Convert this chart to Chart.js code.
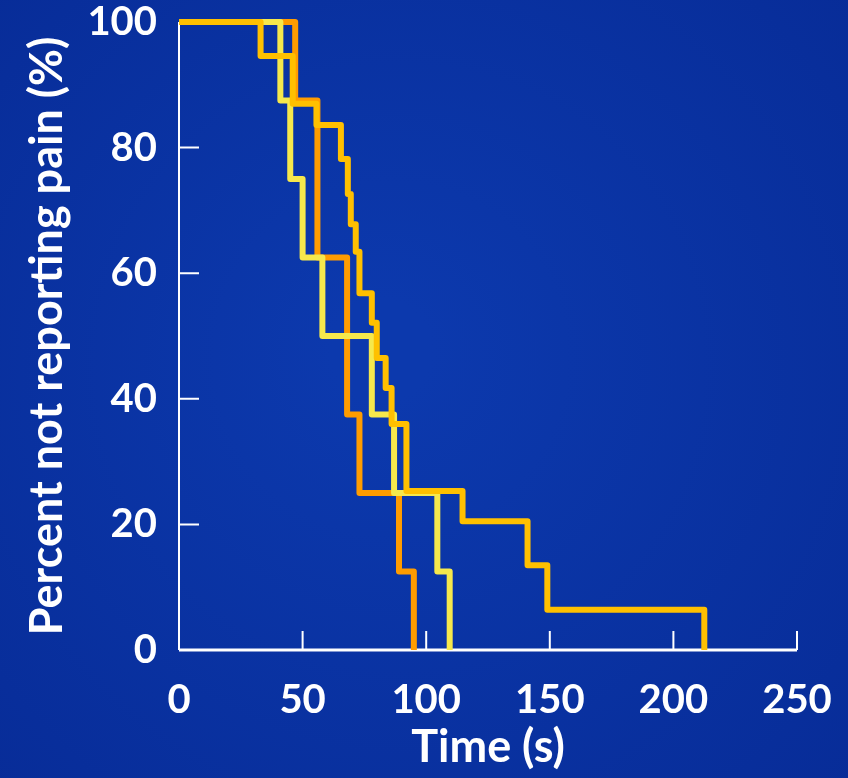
<!DOCTYPE html>
<html>
<head>
<meta charset="utf-8">
<script src="https://cdn.jsdelivr.net/npm/chart.js@4/dist/chart.umd.min.js"></script>
<style>
  html, body { margin: 0; padding: 0; background: #0a2f9e; }
  #wrap { width: 848px; height: 778px; }
</style>
</head>
<body>
<div id="wrap"><canvas id="km"></canvas></div>
<script>
// survival curves: time (s) and percent still without pain
const goldTimes = [0, 33, 46, 55.6, 65.5, 68.3, 69.5, 71.5, 73, 78, 80, 83.6, 86, 92, 114.7, 141, 149, 212.5];
const goldPct = [100, 94.6, 87, 83.6, 78.2, 72.6, 67.8, 63.4, 56.8, 52.1, 46.5, 41.7, 36, 25.3, 20.5, 13.5, 6.4, 0];

const yellowTimes = [0, 41, 45, 50, 58, 78, 87, 104.5, 109.5];
const yellowPct = [100, 87.5, 75, 62.5, 50, 37.5, 25, 12.5, 0];

const orangeTimes = [0, 47, 56, 68, 73, 89, 95];
const orangePct = [100, 87.5, 62.5, 37.5, 25, 12.5, 0];

const xTicks = [0, 50, 100, 150, 200, 250];
const yTicks = [0, 20, 40, 60, 80, 100];

const pts = (ts, vs) => ts.map((t, i) => ({ x: t, y: vs[i] }));

// blue slide background
const bgPlugin = {
  id: 'bg',
  beforeDraw(chart) {
    const { ctx, width, height } = chart;
    const g = ctx.createRadialGradient(width * 0.45, height * 0.45, 50, width * 0.5, height * 0.5, width * 0.75);
    g.addColorStop(0, '#0c39ad');
    g.addColorStop(1, '#072b96');
    ctx.save();
    ctx.fillStyle = g;
    ctx.fillRect(0, 0, width, height);
    ctx.restore();
  }
};

// axis lines with inward tick marks
const axesPlugin = {
  id: 'axes',
  beforeDatasetsDraw(chart) {
    const { ctx, scales: { x, y } } = chart;
    const x0 = x.getPixelForValue(0), y0 = y.getPixelForValue(0);
    ctx.save();
    ctx.strokeStyle = '#ffffff';
    ctx.lineWidth = 2;
    ctx.beginPath();
    ctx.moveTo(x0, y.getPixelForValue(100));
    ctx.lineTo(x0, y0);
    ctx.stroke();
    ctx.lineWidth = 3;
    ctx.beginPath();
    ctx.moveTo(x0, y0);
    ctx.lineTo(x.getPixelForValue(250), y0);
    ctx.stroke();
    ctx.lineWidth = 2;
    ctx.beginPath();
    xTicks.slice(1).forEach(v => {
      const px = x.getPixelForValue(v);
      ctx.moveTo(px, y0);
      ctx.lineTo(px, y0 - 19);
    });
    yTicks.slice(1, -1).forEach(v => {
      const py = y.getPixelForValue(v);
      ctx.moveTo(x0, py);
      ctx.lineTo(x0 + 20, py);
    });
    ctx.stroke();
    ctx.restore();
  }
};

const lineStyle = {
  stepped: 'before',
  borderWidth: 6,
  pointRadius: 0,
  fill: false,
  clip: false,
  borderJoinStyle: 'round'
};

const tickFont = { family: 'Lato', weight: 'bold', size: 40 };
const titleFont = { family: 'Lato', weight: 'bold', size: 45 };

new Chart(document.getElementById('km'), {
  type: 'line',
  data: {
    datasets: [
      { label: 'gold', data: pts(goldTimes, goldPct), borderColor: '#ffc000', ...lineStyle },
      { label: 'yellow', data: pts(yellowTimes, yellowPct), borderColor: '#f6e84c', ...lineStyle },
      { label: 'orange', data: pts(orangeTimes, orangePct), borderColor: '#ff9c00', ...lineStyle }
    ]
  },
  options: {
    responsive: true,
    maintainAspectRatio: false,
    animation: false,
    layout: { padding: { left: 16, top: 22, right: 51, bottom: 0 } },
    plugins: { legend: { display: false }, tooltip: { enabled: false } },
    scales: {
      x: {
        type: 'linear',
        min: 0,
        max: 250,
        afterFit: s => { s.height = 128; s.paddingLeft = 0; s.paddingRight = 0; },
        afterBuildTicks: s => { s.ticks = xTicks.map(v => ({ value: v })); },
        grid: { display: false, drawTicks: false },
        border: { display: false },
        ticks: { color: '#ffffff', padding: 26, maxRotation: 0, font: tickFont },
        title: { display: true, text: 'Time (s)', color: '#ffffff', font: titleFont }
      },
      y: {
        min: 0,
        max: 100,
        afterFit: s => { s.width = 163; s.paddingTop = 0; s.paddingBottom = 0; },
        afterBuildTicks: s => { s.ticks = yTicks.map(v => ({ value: v })); },
        grid: { display: false, drawTicks: false },
        border: { display: false },
        ticks: { color: '#ffffff', padding: 22, font: tickFont },
        title: { display: true, text: 'Percent not reporting pain (%)', color: '#ffffff', font: titleFont }
      }
    }
  },
  plugins: [bgPlugin, axesPlugin]
});
</script>
</body>
</html>
